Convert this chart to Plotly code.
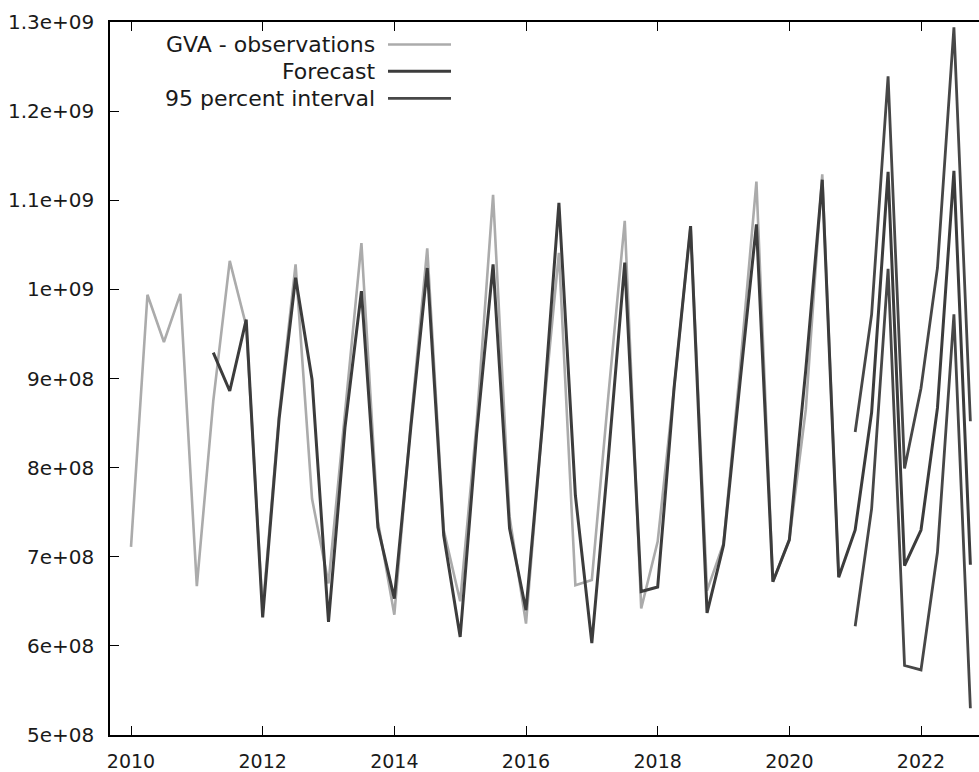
import plotly.graph_objects as go

# ---- data ----
obs_start = 2010.0
obs_values = [
    7.11e8, 9.94e8, 9.41e8, 9.95e8,
    6.67e8, 8.75e8, 1.032e9, 9.59e8,
    6.40e8, 8.60e8, 1.028e9, 7.65e8,
    6.70e8, 8.60e8, 1.052e9, 7.40e8,
    6.35e8, 8.50e8, 1.046e9, 7.30e8,
    6.50e8, 8.50e8, 1.106e9, 7.45e8,
    6.25e8, 8.50e8, 1.041e9, 6.68e8,
    6.74e8, 8.80e8, 1.077e9, 6.42e8,
    7.17e8, 8.90e8, 1.071e9, 6.62e8,
    7.15e8, 9.10e8, 1.121e9, 6.72e8,
    7.19e8, 8.65e8, 1.129e9, 6.77e8,
]

fc_start = 2011.25
fc_values = [
    9.29e8, 8.86e8, 9.66e8,
    6.32e8, 8.55e8, 1.013e9, 8.99e8,
    6.27e8, 8.45e8, 9.98e8, 7.33e8,
    6.53e8, 8.45e8, 1.024e9, 7.24e8,
    6.10e8, 8.38e8, 1.028e9, 7.32e8,
    6.40e8, 8.49e8, 1.097e9, 7.69e8,
    6.03e8, 8.10e8, 1.030e9, 6.61e8,
    6.66e8, 8.90e8, 1.071e9, 6.37e8,
    7.13e8, 8.95e8, 1.073e9, 6.72e8,
    7.19e8, 9.10e8, 1.123e9, 6.77e8,
    7.30e8, 8.62e8, 1.132e9, 6.90e8,
    7.30e8, 8.67e8, 1.133e9, 6.91e8,
]

ci_start = 2021.0
ci_upper = [8.40e8, 9.72e8, 1.239e9, 7.99e8, 8.89e8, 1.024e9, 1.294e9, 8.52e8]
ci_lower = [6.22e8, 7.54e8, 1.023e9, 5.78e8, 5.73e8, 7.05e8, 9.72e8, 5.30e8]

legend_labels = ["GVA - observations", "Forecast", "95 percent interval"]

x_ticks = [2010, 2012, 2014, 2016, 2018, 2020, 2022]
y_ticks = [5e8, 6e8, 7e8, 8e8, 9e8, 1e9, 1.1e9, 1.2e9, 1.3e9]
y_ticktext = ["5e+08", "6e+08", "7e+08", "8e+08", "9e+08", "1e+09", "1.1e+09", "1.2e+09", "1.3e+09"]


def quarters(start, n):
    return [start + 0.25 * i for i in range(n)]


OBS_COLOR = "#ababab"
DARK = "#3c3c3c"
CI_COLOR = "#474747"
FONT = "DejaVu Sans"

fig = go.Figure()
fig.add_trace(go.Scatter(x=quarters(obs_start, len(obs_values)), y=obs_values,
                         mode="lines", line=dict(color=OBS_COLOR, width=2.6),
                         name=legend_labels[0]))
fig.add_trace(go.Scatter(x=quarters(fc_start, len(fc_values)), y=fc_values,
                         mode="lines", line=dict(color=DARK, width=3),
                         name=legend_labels[1]))
fig.add_trace(go.Scatter(x=quarters(ci_start, len(ci_upper)), y=ci_upper,
                         mode="lines", line=dict(color=CI_COLOR, width=2.8),
                         name=legend_labels[2]))
fig.add_trace(go.Scatter(x=quarters(ci_start, len(ci_lower)), y=ci_lower,
                         mode="lines", line=dict(color=CI_COLOR, width=2.8),
                         name=legend_labels[2], showlegend=False))

W, H = 979, 772
L, R, T, B = 110, 0, 22, 35
plot_w = W - L - R
plot_h = H - T - B
# pixel positions of 2010 and 2022 ticks in the reference
px2010, px2022 = 131, 921
ppu = (px2022 - px2010) / 12.0
x_lo = 2010 - (px2010 - L) / ppu
x_hi = 2010 + (W - R - px2010) / ppu

# custom legend (text right-aligned, sample line on the right, like gnuplot)
leg_rows_px = [44.5, 71.5, 98.5]
leg_text_right_px = 377
leg_line_px = (388, 451)
leg_colors = [OBS_COLOR, DARK, CI_COLOR]
leg_widths = [2.6, 3, 2.8]


def px_x(px):
    return (px - L) / plot_w


def px_y(py):
    return (H - B - py) / plot_h


annotations = []
shapes = []
for lab, ry, col, wd in zip(legend_labels, leg_rows_px, leg_colors, leg_widths):
    annotations.append(dict(x=px_x(leg_text_right_px), y=px_y(ry), xref="paper", yref="paper",
                            text=lab, showarrow=False, xanchor="right", yanchor="middle",
                            font=dict(family=FONT, size=22, color="#1a1a1a")))
    shapes.append(dict(type="line", xref="paper", yref="paper",
                       x0=px_x(leg_line_px[0]), x1=px_x(leg_line_px[1]),
                       y0=px_y(ry), y1=px_y(ry), line=dict(color=col, width=wd)))

fig.update_layout(
    width=W, height=H,
    margin=dict(l=L, r=R, t=T, b=B, pad=0),
    paper_bgcolor="white", plot_bgcolor="white",
    showlegend=False,
    font=dict(family=FONT, size=19, color="#1a1a1a"),
    annotations=annotations,
    shapes=shapes,
)
fig.update_xaxes(range=[x_lo, x_hi], tickvals=x_ticks, ticktext=[str(v) for v in x_ticks],
                 showgrid=False, zeroline=False, showline=True, linecolor="black", linewidth=1.5,
                 mirror="allticks", ticks="inside", ticklen=9, tickwidth=1.3, tickcolor="black",
                 ticklabelstandoff=8, tickfont=dict(family=FONT, size=19, color="#1a1a1a"))
fig.update_yaxes(range=[5e8, 1.3e9], tickvals=y_ticks, ticktext=y_ticktext,
                 showgrid=False, zeroline=False, showline=True, linecolor="black", linewidth=1.5,
                 mirror=False, ticks="inside", ticklen=9, tickwidth=1.3, tickcolor="black",
                 ticklabelstandoff=10, tickfont=dict(family=FONT, size=20, color="#1a1a1a"))

fig.write_html("out.html")
